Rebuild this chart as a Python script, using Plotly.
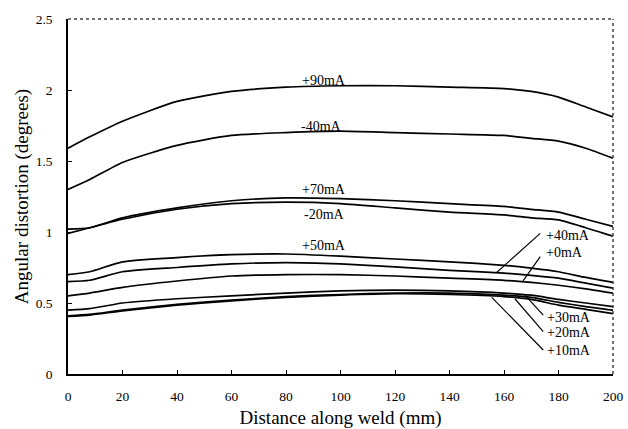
import plotly.graph_objects as go

# ---- data ----
distance = [0, 8, 20, 40, 60, 80, 100, 120, 140, 160, 170, 180, 190, 200]

p90 = [1.59, 1.67, 1.78, 1.92, 1.99, 2.02, 2.03, 2.03, 2.02, 2.01, 1.99, 1.95, 1.88, 1.81]
m40 = [1.30, 1.37, 1.49, 1.61, 1.68, 1.70, 1.71, 1.70, 1.69, 1.68, 1.66, 1.64, 1.59, 1.52]
p70 = [1.02, 1.03, 1.10, 1.17, 1.22, 1.24, 1.235, 1.22, 1.20, 1.18, 1.16, 1.14, 1.09, 1.04]
m20 = [0.99, 1.03, 1.09, 1.16, 1.20, 1.21, 1.20, 1.17, 1.14, 1.12, 1.10, 1.085, 1.03, 0.97]
p50 = [0.70, 0.72, 0.79, 0.82, 0.84, 0.845, 0.83, 0.81, 0.79, 0.765, 0.745, 0.72, 0.68, 0.645]
p40 = [0.65, 0.66, 0.72, 0.75, 0.775, 0.785, 0.775, 0.755, 0.73, 0.71, 0.695, 0.675, 0.64, 0.605]
p0 = [0.55, 0.57, 0.61, 0.655, 0.69, 0.70, 0.70, 0.69, 0.675, 0.66, 0.645, 0.625, 0.60, 0.57]
p30 = [0.45, 0.46, 0.50, 0.53, 0.55, 0.57, 0.585, 0.59, 0.585, 0.57, 0.555, 0.525, 0.50, 0.475]
p20 = [0.41, 0.42, 0.45, 0.49, 0.52, 0.545, 0.56, 0.57, 0.57, 0.555, 0.54, 0.505, 0.475, 0.45]
p10 = [0.405, 0.415, 0.445, 0.485, 0.515, 0.54, 0.555, 0.565, 0.56, 0.545, 0.525, 0.485, 0.455, 0.425]

series = [p90, m40, p70, m20, p50, p40, p0, p30, p20, p10]
series_names = ["+90mA", "-40mA", "+70mA", "-20mA", "+50mA", "+40mA", "+0mA", "+30mA", "+20mA", "+10mA"]

x_ticks = [0, 20, 40, 60, 80, 100, 120, 140, 160, 180, 200]
y_ticks = [0, 0.5, 1, 1.5, 2, 2.5]

# label placements: (text, x, y)
plain_labels = [("+90mA", 94, 2.065), ("-40mA", 93, 1.745), ("+70mA", 94, 1.296),
                ("-20mA", 94, 1.12), ("+50mA", 94, 0.908)]
# leader labels: (text, text_x, text_y, leader_from_x, leader_from_y, leader_to_x, leader_to_y)
leader_labels = [
    ("+40mA", 174.5, 0.975, 173.3, 0.99, 157.3, 0.715),
    ("+0mA", 174.5, 0.856, 173.3, 0.826, 167.0, 0.656),
    ("+30mA", 175.0, 0.400, 174.4, 0.415, 167.7, 0.556),
    ("+20mA", 175.0, 0.289, 174.4, 0.298, 164.0, 0.530),
    ("+10mA", 175.0, 0.169, 174.4, 0.169, 155.5, 0.540),
]

FONT = "Liberation Serif"

fig = go.Figure()
for name, ys in zip(series_names, series):
    fig.add_trace(go.Scatter(x=distance, y=ys, mode="lines", name=name,
                             line=dict(color="black", width=1.7, shape="spline", smoothing=0.6),
                             showlegend=False, hoverinfo="skip"))

for text, x, y in plain_labels:
    fig.add_annotation(x=x, y=y, text=text, showarrow=False, xanchor="center", yanchor="middle",
                       font=dict(family=FONT, size=14, color="black"))

for text, tx, ty, fx, fy, lx, ly in leader_labels:
    fig.add_annotation(x=tx, y=ty, text=text, showarrow=False, xanchor="left", yanchor="middle",
                       font=dict(family=FONT, size=14, color="black"))
    fig.add_shape(type="line", xref="x", yref="y", x0=fx, y0=fy, x1=lx, y1=ly,
                  line=dict(color="black", width=1.2))

# dotted top and right frame
fig.add_shape(type="line", xref="x domain", yref="y domain", x0=0, y0=1, x1=1, y1=1,
              line=dict(color="#444", width=1.5, dash="dot"))
fig.add_shape(type="line", xref="x domain", yref="y domain", x0=1, y0=0, x1=1, y1=1,
              line=dict(color="#444", width=1.5, dash="dot"))

fig.update_layout(
    width=628, height=429,
    margin=dict(l=68, r=15, t=19, b=55),
    paper_bgcolor="white", plot_bgcolor="white",
    font=dict(family=FONT, color="black"),
    xaxis=dict(range=[0, 200], tickvals=x_ticks, ticks="inside", ticklen=4, tickwidth=1.2,
               tickcolor="black", showline=True, linecolor="black", linewidth=1.6,
               showgrid=False, zeroline=False, tickfont=dict(family=FONT, size=13.5),
               ticklabelstandoff=9, automargin=False,
               title=dict(text="Distance along weld (mm)", font=dict(family=FONT, size=19), standoff=10)),
    yaxis=dict(range=[0, 2.5], tickvals=y_ticks, ticks="inside", ticklen=4, tickwidth=1.2,
               tickcolor="black", showline=True, linecolor="black", linewidth=1.6,
               showgrid=False, zeroline=False, tickfont=dict(family=FONT, size=13.5),
               ticklabelstandoff=11, automargin=False,
               title=dict(text="Angular distortion (degrees)", font=dict(family=FONT, size=19), standoff=2)),
)

fig.write_html("out.html")
